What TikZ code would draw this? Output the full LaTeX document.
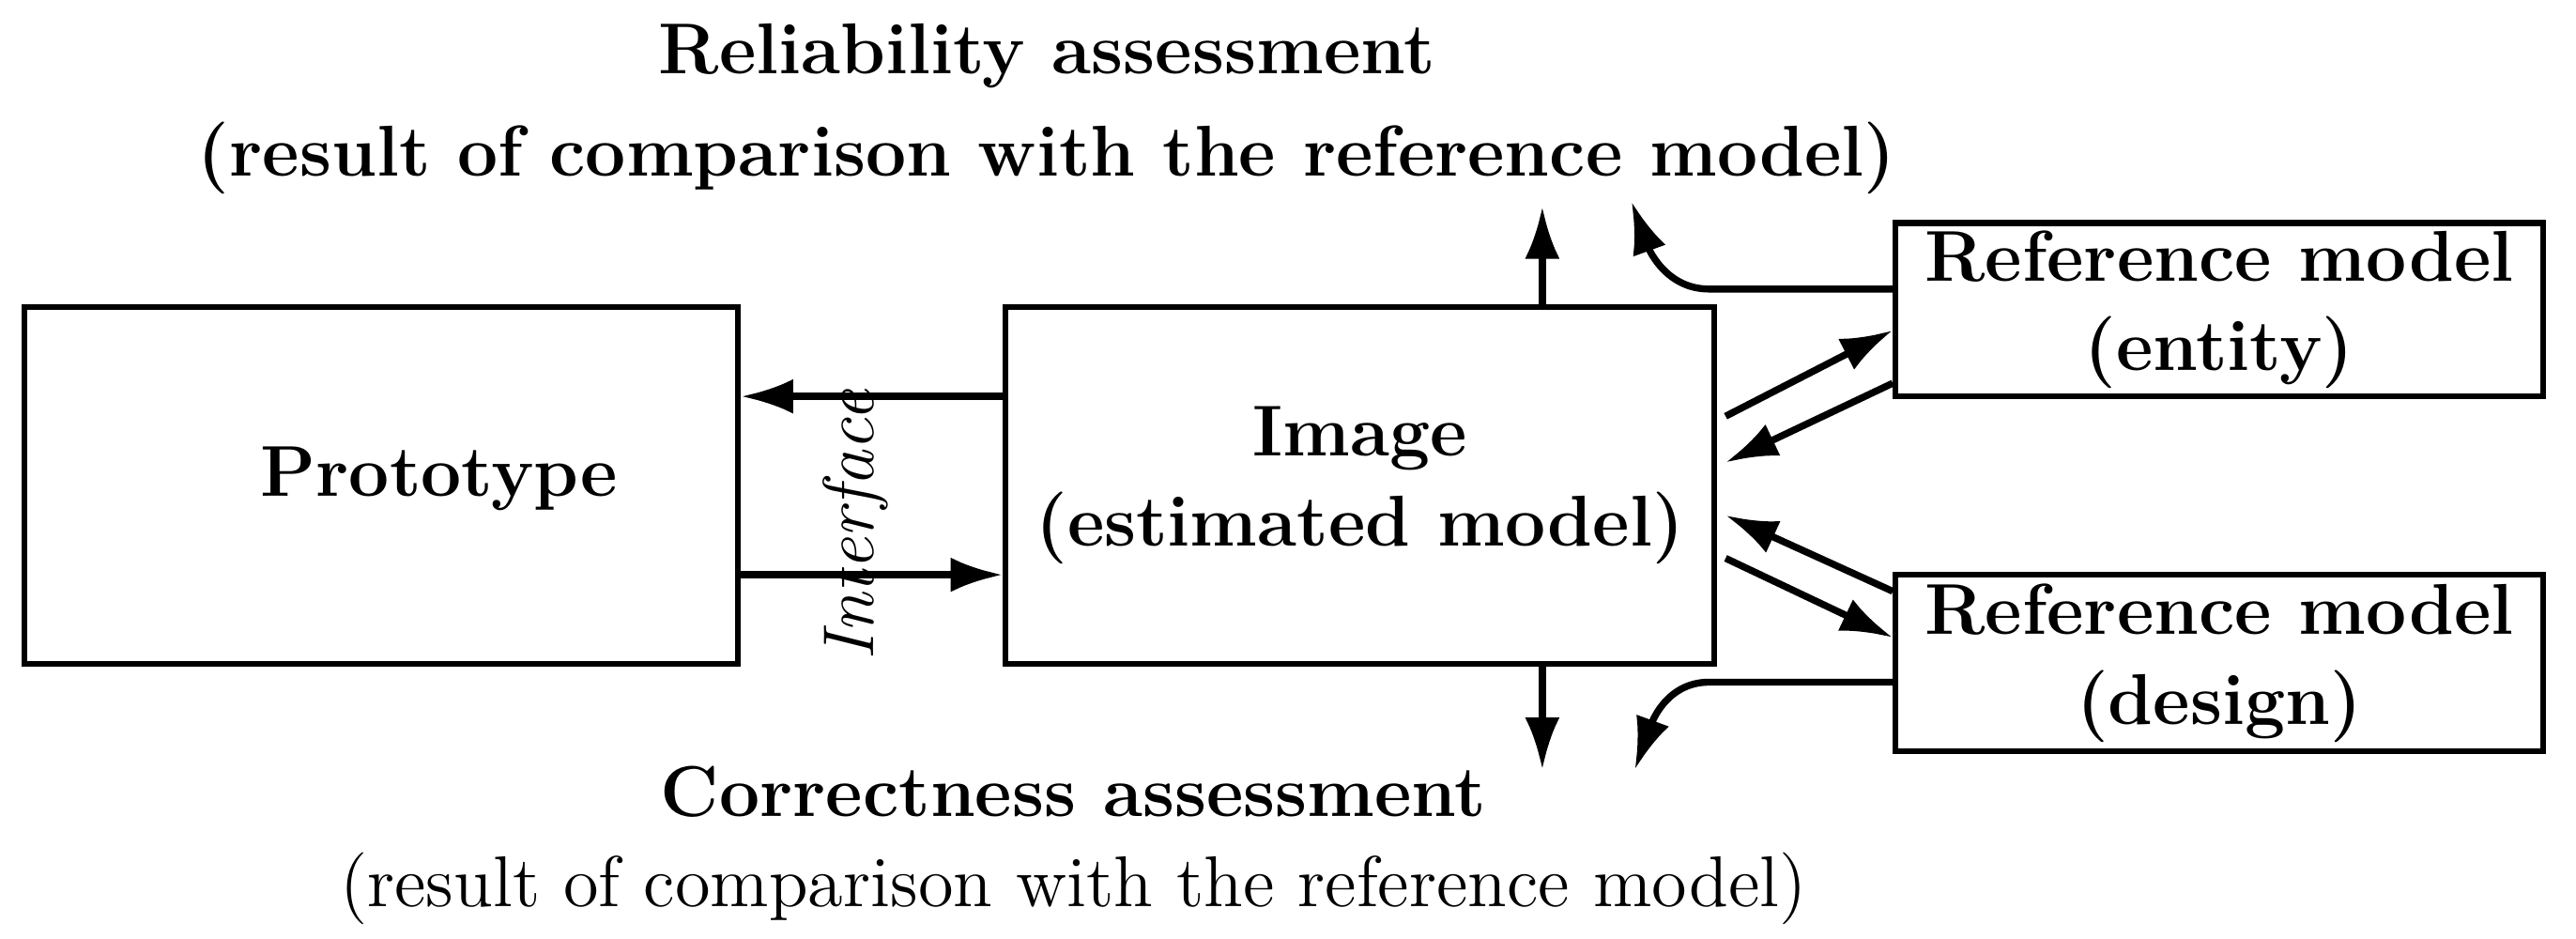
\documentclass[tikz,border=0pt]{standalone}
\usetikzlibrary{arrows.meta}
\tikzset{
	box/.style={draw, line width=1pt, inner sep=0pt},
	lbl/.style={font=\fontsize{12.4}{15.5}\selectfont\bfseries, align=center},
	arr/.style={line width=1.2pt, -{Latex[length=9pt,width=6pt]}}
}
\begin{document}
\begin{tikzpicture}[x=0.1mm,y=-0.1mm]
		\useasboundingbox (0,0) rectangle (1560,568);
		% boxes
			\node [box, minimum width=43.2mm, minimum height=21.6mm] (proto) at (231,294) {};
			\node [lbl] at (266,290) {Prototype};
			\node [box, minimum width=42.9mm, minimum height=21.6mm] (image) at (823.5,294) {};
			\node [lbl] at (823.5,294) {Image\\(estimated model)};
			\node [box, minimum width=39.2mm, minimum height=10.5mm, lbl] (entity) at (1344,187.5) {Reference model\\(entity)};
			\node [box, minimum width=39.2mm, minimum height=10.7mm, lbl] (design) at (1344,401.5) {Reference model\\(design)};
		% assessments
			\node [lbl] (rel) at (634,66) {Reliability assessment\\[2pt](result of comparison with the reference model)};
			\node [lbl] (cor) at (650,512) {Correctness assessment\\[0pt]\mdseries(result of comparison with the reference model)};
		% interface
			\node [font=\fontsize{12.4}{15.5}\selectfont\itshape, rotate=90] (intf) at (518,318) {Interface};
			\draw [arr] (image.west |- 0,240) -- (proto.east |- 0,240);
			\draw [arr] (proto.east |- 0,348) -- (image.west |- 0,348);
		% up and down
			\coordinate (upend) at (934,125);
			\coordinate (dnend) at (934,466);
			\draw [arr] (image.north -| upend) -- (upend);
			\draw [arr] (image.south -| dnend) -- (dnend);
			\coordinate (relend) at (988,122);
			\coordinate (corend) at (990,466);
			\draw [arr] (entity.west |- 0,175) -- (1035,175) to[out=180,in=-70] (relend);
			\draw [arr] (entity.west |- 0,413) -- (1035,413) to[out=180,in=70] (corend);
		% image to references
			\coordinate (e1) at (1045,252); \coordinate (e2) at (1045,280);
			\coordinate (d1) at (1045,312); \coordinate (d2) at (1045,338);
			\draw [arr] (e1) -- (entity.west |- 0,200);
			\draw [arr] (entity.west |- 0,232) -- (e2);
			\draw [arr] (design.west |- 0,358) -- (d1);
			\draw [arr] (d2) -- (design.west |- 0,386);
	\end{tikzpicture}
\end{document}
